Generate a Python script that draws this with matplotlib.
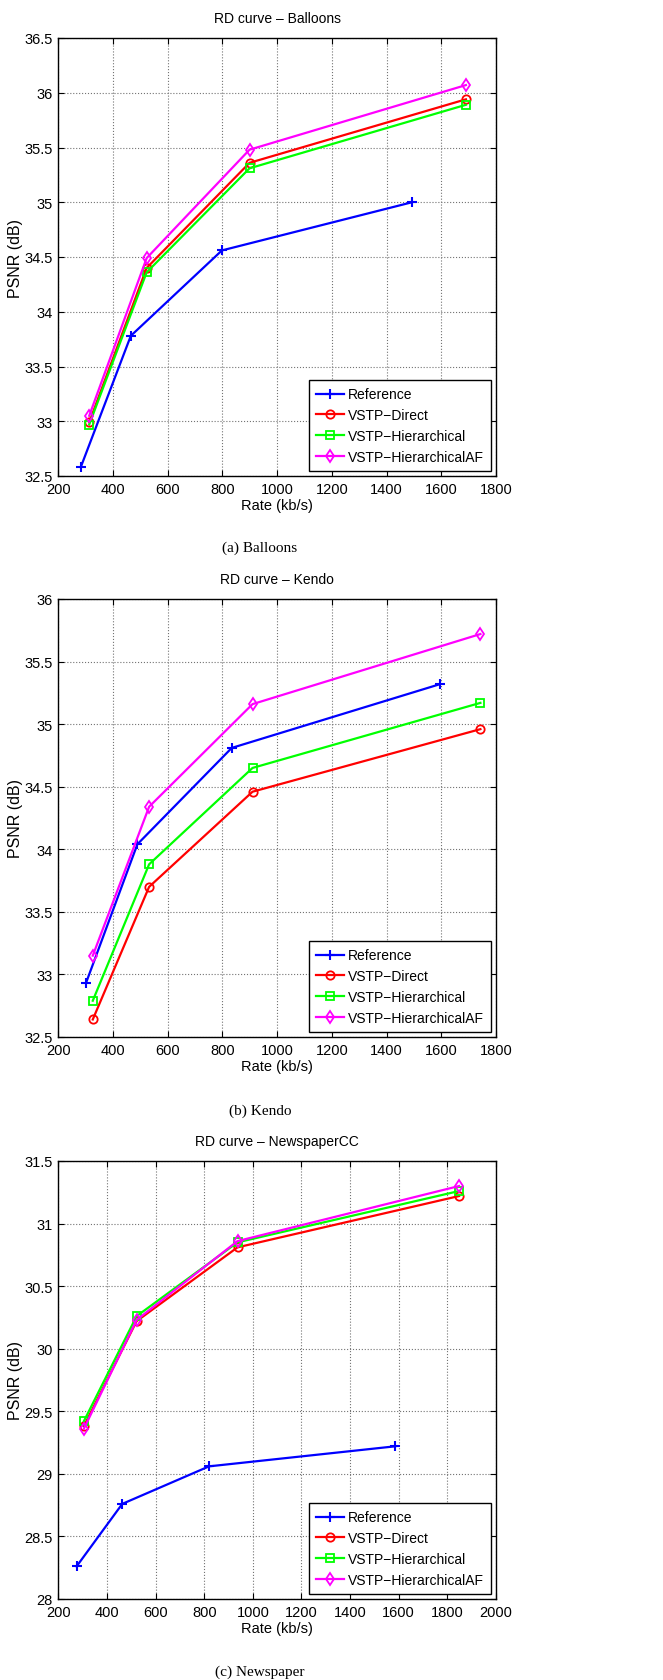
import matplotlib
matplotlib.use('Agg')
import matplotlib.pyplot as plt

# Data
legend_names = ['Reference', 'VSTP\u2212Direct', 'VSTP\u2212Hierarchical', 'VSTP\u2212HierarchicalAF']

# (a) Balloons
balloons_ref_rate = [282, 465, 798, 1493]
balloons_ref_psnr = [32.58, 33.78, 34.56, 35.00]
balloons_vstp_rate = [313, 523, 899, 1690]
balloons_direct = [32.99, 34.40, 35.36, 35.94]
balloons_hier = [32.97, 34.36, 35.31, 35.89]
balloons_hieraf = [33.05, 34.49, 35.48, 36.07]

# (b) Kendo
kendo_ref_rate = [301, 489, 834, 1596]
kendo_ref_psnr = [32.93, 34.04, 34.81, 35.32]
kendo_vstp_rate = [326, 532, 910, 1743]
kendo_direct = [32.64, 33.70, 34.46, 34.96]
kendo_hier = [32.79, 33.88, 34.65, 35.17]
kendo_hieraf = [33.15, 34.34, 35.16, 35.72]

# (c) Newspaper
news_ref_rate = [275, 463, 820, 1585]
news_ref_psnr = [28.26, 28.76, 29.06, 29.22]
news_vstp_rate = [305, 522, 937, 1848]
news_direct = [29.38, 30.22, 30.81, 31.22]
news_hier = [29.42, 30.26, 30.85, 31.26]
news_hieraf = [29.36, 30.23, 30.86, 31.30]

fs = 10
plt.rcParams['font.family'] = 'Liberation Sans'
plt.rcParams['font.size'] = fs

W, H = 663, 1681
fig = plt.figure(figsize=(W / 100, H / 100), dpi=100)

panels = [
    ('RD curve \u2013 Balloons', '(a) Balloons', 39, 477,
     (balloons_ref_rate, balloons_ref_psnr, balloons_vstp_rate,
      balloons_direct, balloons_hier, balloons_hieraf),
     (200, 1800), (32.5, 36.5), 548),
    ('RD curve \u2013 Kendo', '(b) Kendo', 600, 1038,
     (kendo_ref_rate, kendo_ref_psnr, kendo_vstp_rate,
      kendo_direct, kendo_hier, kendo_hieraf),
     (200, 1800), (32.5, 36), 1111),
    ('RD curve \u2013 NewspaperCC', '(c) Newspaper', 1162, 1600,
     (news_ref_rate, news_ref_psnr, news_vstp_rate,
      news_direct, news_hier, news_hieraf),
     (200, 2000), (28, 31.5), 1672),
]

left, right = 58.3, 496
for title, caption, top, bottom, d, xlim, ylim, cap_y in panels:
    ax = fig.add_axes([left / W, (H - bottom) / H, (right - left) / W, (bottom - top) / H])
    ref_rate, ref_psnr, vrate, direct, hier, hieraf = d
    ax.plot(ref_rate, ref_psnr, color='#0000ff', marker='+', ms=7, mew=1.5, lw=1.6, label=legend_names[0])
    ax.plot(vrate, direct, color='#ff0000', marker='o', ms=6, mfc='none', mew=1.3, lw=1.6, label=legend_names[1])
    ax.plot(vrate, hier, color='#00ff00', marker='s', ms=5.5, mfc='none', mew=1.3, lw=1.6, label=legend_names[2])
    ax.plot(vrate, hieraf, color='#ff00ff', marker='d', ms=6.5, mfc='none', mew=1.3, lw=1.6, label=legend_names[3])

    ax.set_xlim(*xlim)
    ax.set_ylim(*ylim)
    ax.set_xticks(range(xlim[0], xlim[1] + 1, 200))
    yt = [ylim[0] + 0.5 * i for i in range(int(round((ylim[1] - ylim[0]) / 0.5)) + 1)]
    ax.set_yticks(yt)
    ax.set_yticklabels(['%g' % v for v in yt])
    ax.grid(True, linestyle=':', color='0.45', lw=0.8)
    ax.tick_params(direction='in', top=True, right=True, length=4, width=0.8, pad=4,
                   labelsize=10.5)
    for s in ax.spines.values():
        s.set_linewidth(1.0)
    ax.set_xlabel('Rate (kb/s)', labelpad=2, fontsize=10.5)
    ax.set_ylabel('PSNR (dB)', fontsize=11.5)
    ax.yaxis.set_label_coords(-0.081, 0.5)

    leg = ax.legend(loc='lower right', fancybox=False, edgecolor='black', framealpha=1,
                    borderaxespad=0.35, labelspacing=0.5, handlelength=2.0,
                    handletextpad=0.3, borderpad=0.5)
    leg.get_frame().set_linewidth(1.0)

    fig.text((left + right) / 2 / W, 1 - (top - 20) / H,
             title, ha='center', va='center', fontsize=fs)
    fig.text(260 / W, 1 - cap_y / H, caption, ha='center', va='center',
             family='Liberation Serif', fontsize=11)

fig.savefig('out.png', dpi=100)
